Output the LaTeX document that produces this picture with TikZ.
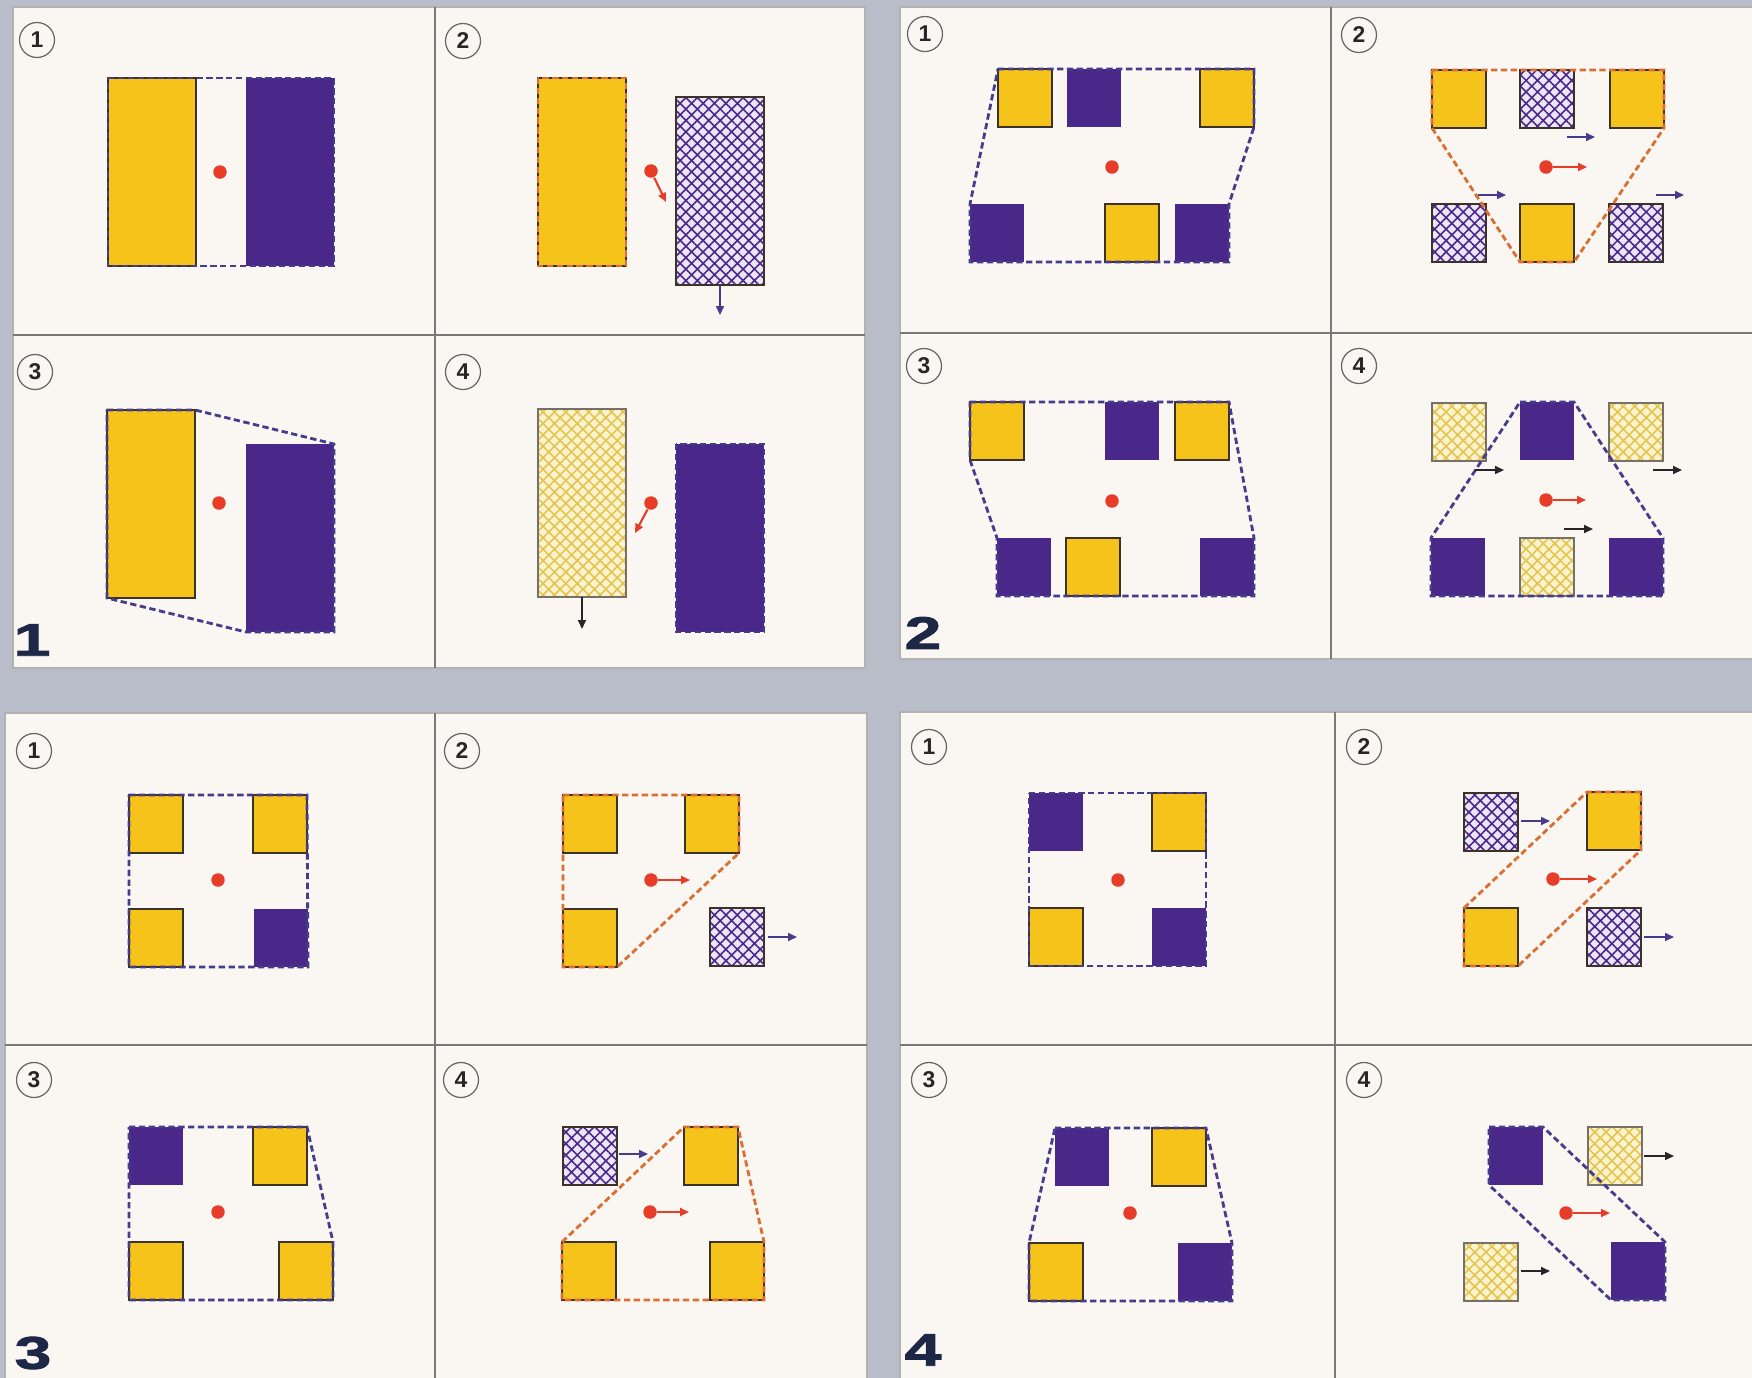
\documentclass[tikz,border=0pt]{standalone}
\usepackage{fontspec}
\setmainfont{Liberation Sans}
\newfontfamily\seqfont{Liberation Sans Bold}[FakeBold=2,FakeStretch=1.45]
\usepackage{tikz}
\usetikzlibrary{arrows.meta,patterns.meta,positioning}
\definecolor{pagebg}{RGB}{184,189,201}
\definecolor{paper}{RGB}{250,247,243}
\definecolor{rule}{RGB}{125,120,120}
\definecolor{legyellow}{RGB}{245,195,25}
\definecolor{legpurple}{RGB}{74,40,138}
\definecolor{legedge}{RGB}{60,50,40}
\definecolor{hatchpurplebg}{RGB}{236,229,246}
\definecolor{hatchyellowbg}{RGB}{250,243,205}
\definecolor{hatchyellow}{RGB}{228,196,80}
\definecolor{cgred}{RGB}{230,60,40}
\definecolor{hullblue}{RGB}{70,60,140}
\definecolor{hullorange}{RGB}{220,110,50}
\definecolor{seqblue}{RGB}{30,40,70}

\begin{document}
\begin{tikzpicture}[x=0.1mm, y=-0.1mm,
  panel/.style={fill=paper, draw=gray!60, line width=0.4pt},
  divider/.style={draw=rule, line width=0.6pt},
  leg/.style={rectangle, inner sep=0pt, outer sep=0pt, anchor=north west,
    minimum width=5.4mm, minimum height=5.8mm},
  big/.style={minimum width=8.8mm, minimum height=18.8mm},
  yel/.style={leg, fill=legyellow, draw=legedge, line width=0.4pt},
  pur/.style={leg, fill=legpurple},
  hpur/.style={leg, draw=legedge, line width=0.4pt, preaction={fill=hatchpurplebg},
    pattern={Hatch[angle=45,distance=2.3pt,line width=0.45pt]}, pattern color=legpurple},
  hyel/.style={leg, draw=legedge!70, line width=0.4pt, preaction={fill=hatchyellowbg},
    pattern={Hatch[angle=45,distance=2.3pt,line width=0.45pt]}, pattern color=hatchyellow},
  dot/.style={circle, fill=cgred, inner sep=0pt, minimum size=1.35mm},
  hullb/.style={draw=hullblue, line width=0.8pt, dash pattern=on 1.8pt off 1pt},
  hullo/.style={draw=hullorange, line width=0.8pt, dash pattern=on 1.8pt off 1pt},
  redarr/.style={draw=cgred, line width=0.6pt, -{Triangle[length=0.9mm,width=0.8mm]}},
  movearr/.style={draw=hullblue, line width=0.55pt, -{Triangle[length=0.9mm,width=0.8mm]}},
  blackarr/.style={draw=black!85, line width=0.55pt, -{Triangle[length=0.9mm,width=0.8mm]}},
  stepnum/.style={circle, draw=gray!80!black, line width=0.35pt, minimum size=3.5mm,
    inner sep=0pt, text=black!85, font=\bfseries\fontsize{6.5}{7}\selectfont},
  seqnum/.style={inner sep=0pt, text=seqblue, font=\seqfont\fontsize{13}{13}\selectfont}]

\useasboundingbox (0,0) rectangle (1752,1378);
\fill[pagebg] (0,0) rectangle (1752,1378);

\path[panel] (13,7) rectangle (865,668);
\path[panel] (900,7) rectangle (1760,659);
\path[panel] (5,713) rectangle (867,1390);
\path[panel] (900,712) rectangle (1760,1390);

\draw[divider] (435,7) -- (435,668);
\draw[divider] (13,335) -- (865,335);
\draw[divider] (1331,7) -- (1331,659);
\draw[divider] (900,333) -- (1752,333);
\draw[divider] (435,713) -- (435,1378);
\draw[divider] (5,1045) -- (867,1045);
\draw[divider] (1335,712) -- (1335,1378);
\draw[divider] (900,1045) -- (1752,1045);

\node[stepnum] (a1n) at (37,40) {1};
\node[stepnum] (a2n) at (463,41) {2};
\node[stepnum] (a3n) at (35,372) {3};
\node[stepnum] (a4n) at (463,372) {4};
\node[stepnum] (b1n) at (925,34) {1};
\node[stepnum] (b2n) at (1359,35) {2};
\node[stepnum] (b3n) at (924,366) {3};
\node[stepnum] (b4n) at (1359,366) {4};
\node[stepnum] (c1n) at (34,751) {1};
\node[stepnum] (c2n) at (462,751) {2};
\node[stepnum] (c3n) at (34,1080) {3};
\node[stepnum] (c4n) at (461,1080) {4};
\node[stepnum] (d1n) at (929,747) {1};
\node[stepnum] (d2n) at (1364,747) {2};
\node[stepnum] (d3n) at (929,1080) {3};
\node[stepnum] (d4n) at (1364,1080) {4};

\node[seqnum] (sa) at (32,640) {1};
\node[seqnum] (sb) at (923,633) {2};
\node[seqnum] (sc) at (33,1353) {3};
\node[seqnum] (sd) at (923,1350) {4};

% panel 1
\node[yel,big] (a1y) at (108,78) {};
\node[pur,big] (a1p) at (246,78) {};
\node[dot] (a1d) at (220,172) {};
\draw[hullb] (a1y.north west) -- (a1p.north east) -- (a1p.south east) -- (a1y.south west) -- cycle;

\node[yel,big] (a2y) at (538,78) {};
\node[hpur,big] (a2h) at (676,97) {};
\node[dot] (a2d) at (651,171) {};
\draw[hullo] (a2y.north west) rectangle (a2y.south east);
\draw[movearr] (a2h.south) -- ++(0,30);
\draw[redarr] (a2d) -- ++(15,31);

\node[yel,big] (a3y) at (107,410) {};
\node[pur,big] (a3p) at (246,444) {};
\node[dot] (a3d) at (219,503) {};
\draw[hullb] (a3y.north west) -- (a3y.north east) -- (a3p.north east) -- (a3p.south east) -- (a3p.south west) -- (a3y.south west) -- cycle;

\node[hyel,big] (a4h) at (538,409) {};
\node[pur,big] (a4p) at (676,444) {};
\node[dot] (a4d) at (651,503) {};
\draw[hullb] (a4p.north west) rectangle (a4p.south east);
\draw[blackarr] (a4h.south) -- ++(0,32);
\draw[redarr] (a4d) -- ++(-16,30);

% panel 2
\node[yel] (b1y1) at (998,69) {};
\node[pur] (b1p1) at (1067,69) {};
\node[yel] (b1y2) at (1200,69) {};
\node[pur] (b1p2) at (970,204) {};
\node[yel] (b1y3) at (1105,204) {};
\node[pur] (b1p3) at (1175,204) {};
\node[dot] (b1d) at (1112,167) {};
\draw[hullb] (b1y1.north west) -- (b1y2.north east) -- (b1y2.south east) -- (b1p3.north east) -- (b1p3.south east) -- (b1p2.south west) -- (b1p2.north west) -- cycle;

\node[yel] (b2y1) at (1432,70) {};
\node[hpur] (b2h1) at (1520,70) {};
\node[yel] (b2y2) at (1610,70) {};
\node[hpur] (b2h2) at (1432,204) {};
\node[yel] (b2y3) at (1520,204) {};
\node[hpur] (b2h3) at (1609,204) {};
\node[dot] (b2d) at (1546,167) {};
\draw[hullo] (b2y1.north west) -- (b2y2.north east) -- (b2y2.south east) -- (b2y3.south east) -- (b2y3.south west) -- (b2y1.south west) -- cycle;
\draw[movearr] (1567,137) -- ++(28,0);
\draw[movearr] (1478,195) -- ++(28,0);
\draw[movearr] (1656,195) -- ++(28,0);
\draw[redarr] (b2d) -- ++(41,0);

\node[yel] (b3y1) at (970,402) {};
\node[pur] (b3p1) at (1105,402) {};
\node[yel] (b3y2) at (1175,402) {};
\node[pur] (b3p2) at (997,538) {};
\node[yel] (b3y3) at (1066,538) {};
\node[pur] (b3p3) at (1200,538) {};
\node[dot] (b3d) at (1112,501) {};
\draw[hullb] (b3y1.north west) -- (b3y2.north east) -- (b3p3.north east) -- (b3p3.south east) -- (b3p2.south west) -- (b3p2.north west) -- (b3y1.south west) -- cycle;

\node[hyel] (b4h1) at (1432,403) {};
\node[pur] (b4p1) at (1520,402) {};
\node[hyel] (b4h2) at (1609,403) {};
\node[pur] (b4p2) at (1431,538) {};
\node[hyel] (b4h3) at (1520,538) {};
\node[pur] (b4p3) at (1609,538) {};
\node[dot] (b4d) at (1546,500) {};
\draw[hullb] (b4p1.north west) -- (b4p1.north east) -- (b4p3.north east) -- (b4p3.south east) -- (b4p2.south west) -- (b4p2.north west) -- cycle;
\draw[blackarr] (1475,470) -- ++(29,0);
\draw[blackarr] (1653,470) -- ++(29,0);
\draw[blackarr] (1564,529) -- ++(29,0);
\draw[redarr] (b4d) -- ++(40,0);

% panel 3
\node[yel] (c1y1) at (129,795) {};
\node[yel] (c1y2) at (253,795) {};
\node[yel] (c1y3) at (129,909) {};
\node[pur] (c1p1) at (254,909) {};
\node[dot] (c1d) at (218,880) {};
\draw[hullb] (c1y1.north west) -- (c1y2.north east) -- (c1p1.south east) -- (c1y3.south west) -- cycle;

\node[yel] (c2y1) at (563,795) {};
\node[yel] (c2y2) at (685,795) {};
\node[yel] (c2y3) at (563,909) {};
\node[hpur] (c2h1) at (710,908) {};
\node[dot] (c2d) at (651,880) {};
\draw[hullo] (c2y1.north west) -- (c2y2.north east) -- (c2y2.south east) -- (c2y3.south east) -- (c2y3.south west) -- cycle;
\draw[movearr] (768,937) -- ++(29,0);
\draw[redarr] (c2d) -- ++(39,0);

\node[pur] (c3p1) at (129,1127) {};
\node[yel] (c3y1) at (253,1127) {};
\node[yel] (c3y2) at (129,1242) {};
\node[yel] (c3y3) at (279,1242) {};
\node[dot] (c3d) at (218,1212) {};
\draw[hullb] (c3p1.north west) -- (c3y1.north east) -- (c3y3.north east) -- (c3y3.south east) -- (c3y2.south west) -- cycle;

\node[hpur] (c4h1) at (563,1127) {};
\node[yel] (c4y1) at (684,1127) {};
\node[yel] (c4y2) at (562,1242) {};
\node[yel] (c4y3) at (710,1242) {};
\node[dot] (c4d) at (650,1212) {};
\draw[hullo] (c4y2.north west) -- (c4y1.north west) -- (c4y1.north east) -- (c4y3.north east) -- (c4y3.south east) -- (c4y2.south west) -- cycle;
\draw[movearr] (619,1154) -- ++(29,0);
\draw[redarr] (c4d) -- ++(39,0);

% panel 4
\node[pur] (d1p1) at (1029,793) {};
\node[yel] (d1y1) at (1152,793) {};
\node[yel] (d1y2) at (1029,908) {};
\node[pur] (d1p2) at (1152,908) {};
\node[dot] (d1d) at (1118,880) {};
\draw[hullb] (d1p1.north west) -- (d1y1.north east) -- (d1p2.south east) -- (d1y2.south west) -- cycle;

\node[hpur] (d2h1) at (1464,793) {};
\node[yel] (d2y1) at (1587,792) {};
\node[yel] (d2y2) at (1464,908) {};
\node[hpur] (d2h2) at (1587,908) {};
\node[dot] (d2d) at (1553,879) {};
\draw[hullo] (d2y2.north west) -- (d2y1.north west) -- (d2y1.north east) -- (d2y1.south east) -- (d2y2.south east) -- (d2y2.south west) -- cycle;
\draw[movearr] (1521,821) -- ++(29,0);
\draw[movearr] (1644,937) -- ++(30,0);
\draw[redarr] (d2d) -- ++(44,0);

\node[pur] (d3p1) at (1055,1128) {};
\node[yel] (d3y1) at (1152,1128) {};
\node[yel] (d3y2) at (1029,1243) {};
\node[pur] (d3p2) at (1178,1243) {};
\node[dot] (d3d) at (1130,1213) {};
\draw[hullb] (d3p1.north west) -- (d3y1.north east) -- (d3p2.north east) -- (d3p2.south east) -- (d3y2.south west) -- (d3y2.north west) -- cycle;

\node[pur] (d4p1) at (1489,1127) {};
\node[hyel] (d4h1) at (1588,1127) {};
\node[hyel] (d4h2) at (1464,1243) {};
\node[pur] (d4p2) at (1611,1242) {};
\node[dot] (d4d) at (1566,1213) {};
\draw[hullb] (d4p1.north west) -- (d4p1.north east) -- (d4p2.north east) -- (d4p2.south east) -- (d4p2.south west) -- (d4p1.south west) -- cycle;
\draw[blackarr] (1644,1156) -- ++(30,0);
\draw[blackarr] (1521,1271) -- ++(29,0);
\draw[redarr] (d4d) -- ++(44,0);
\end{tikzpicture}
\end{document}
